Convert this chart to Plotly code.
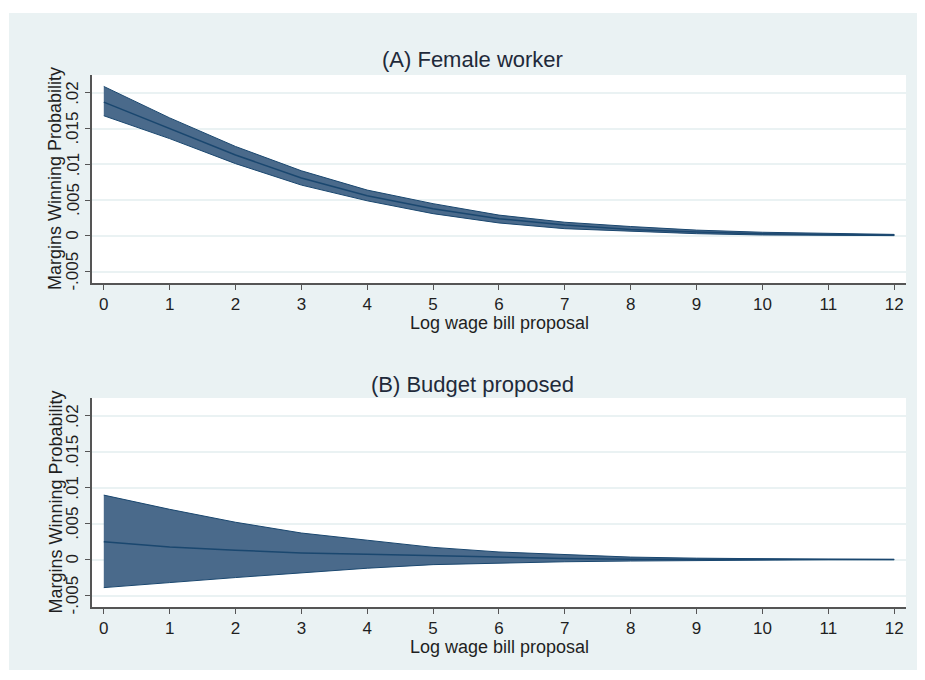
import plotly.graph_objects as go

# ---- data ----
log_wage = [0, 1, 2, 3, 4, 5, 6, 7, 8, 9, 10, 11, 12]

female_margin = [0.0187, 0.0150, 0.0113, 0.0081, 0.0056, 0.0038, 0.0024, 0.0015, 0.0009, 0.00055, 0.0003, 0.00018, 0.0001]
female_lower = [0.0168, 0.0136, 0.0101, 0.0071, 0.0049, 0.0031, 0.0018, 0.0010, 0.0006, 0.0003, 0.00012, 0.00006, 0.00003]
female_upper = [0.0209, 0.0165, 0.0125, 0.0091, 0.0064, 0.0045, 0.0029, 0.0019, 0.0013, 0.0008, 0.0005, 0.0003, 0.0002]

budget_margin = [0.00247, 0.00177, 0.0013, 0.00093, 0.00074, 0.00055, 0.0003, 0.00015, 0.00006, 0.00003, 0.00002, 0.00001, 0.000005]
budget_lower = [-0.0039, -0.0032, -0.0025, -0.0018, -0.0012, -0.0007, -0.00045, -0.0003, -0.0002, -0.0001, -0.00005, -0.00002, -0.00001]
budget_upper = [0.00898, 0.0070, 0.0052, 0.0037, 0.0027, 0.0017, 0.00106, 0.0007, 0.00035, 0.0002, 0.0001, 0.00005, 0.00002]

y_tickvals = [-0.005, 0, 0.005, 0.01, 0.015, 0.02]
y_ticktext = ["-.005", "0", ".005", ".01", ".015", ".02"]
x_tickvals = list(range(0, 13))

panel_titles = ["(A) Female worker", "(B) Budget proposed"]
x_title = "Log wage bill proposal"
y_title = "Margins Winning Probability"

# ---- styling ----
OFF = 8  # page body margin
W, H = 925 - OFF, 680 - 2 * OFF
BG = "#EAF2F3"
FILL = "#4A6A8B"
LINE = "#1A476F"
FONT = "Liberation Sans, Arial, sans-serif"
TXT = "#1f1f1f"

def px_x(p):
    return (p - OFF) / W

def px_y(p):
    return 1 - (p - OFF) / H

panels = [
    dict(top=75, bottom=283, m=female_margin, lo=female_lower, hi=female_upper,
         title_y=60, xtitle_y=323),
    dict(top=398, bottom=607, m=budget_margin, lo=budget_lower, hi=budget_upper,
         title_y=384, xtitle_y=647),
]

fig = go.Figure()
layout_axes = {}
annotations = []
left_px, right_px = 92, 906

for i, p in enumerate(panels):
    n = "" if i == 0 else str(i + 1)
    xa, ya = "x" + n, "y" + n
    fig.add_trace(go.Scatter(
        x=log_wage + log_wage[::-1], y=p["hi"] + p["lo"][::-1],
        fill="toself", fillcolor=FILL, mode="lines",
        line=dict(color=LINE, width=1), xaxis=xa, yaxis=ya,
        showlegend=False, hoverinfo="skip"))
    fig.add_trace(go.Scatter(
        x=log_wage, y=p["m"], mode="lines",
        line=dict(color=LINE, width=1.5), xaxis=xa, yaxis=ya,
        showlegend=False))
    layout_axes["xaxis" + n] = dict(
        domain=[px_x(left_px), px_x(right_px)],
        range=[-0.179, 12.18], tickvals=x_tickvals,
        ticks="outside", ticklen=5, tickcolor="#555", tickwidth=1,
        showline=True, linecolor="#555", linewidth=1.5,
        showgrid=False, zeroline=False, anchor=ya,
        tickfont=dict(family=FONT, size=17, color=TXT),
        automargin=False)
    layout_axes["yaxis" + n] = dict(
        domain=[px_y(p["bottom"]), px_y(p["top"])],
        range=[-0.0066, 0.0225], tickvals=y_tickvals,
        showticklabels=False, ticks="outside", ticklen=5, tickcolor="#555", tickwidth=1,
        showline=True, linecolor="#555", linewidth=1.5,
        showgrid=True, gridcolor=BG, gridwidth=2, zeroline=False, anchor=xa,
        automargin=False)
    # y tick labels (rotated, Stata style)
    for v, t in zip(y_tickvals, y_ticktext):
        annotations.append(dict(
            text=t, x=px_x(73), y=v, xref="paper", yref=ya,
            showarrow=False, xanchor="center", yanchor="middle", textangle=-90,
            font=dict(family=FONT, size=17, color=TXT)))
    annotations.append(dict(
        text=panel_titles[i], x=px_x(472), y=px_y(p["title_y"]),
        xref="paper", yref="paper", showarrow=False, xanchor="center", yanchor="middle",
        font=dict(family=FONT, size=22, color="#1f2a3a")))
    annotations.append(dict(
        text=x_title, x=px_x(499), y=px_y(p["xtitle_y"]),
        xref="paper", yref="paper", showarrow=False, xanchor="center", yanchor="middle",
        font=dict(family=FONT, size=18, color=TXT)))
    annotations.append(dict(
        text=y_title, x=px_x(55), y=px_y((p["top"] + p["bottom"]) / 2),
        xref="paper", yref="paper", showarrow=False, xanchor="center", yanchor="middle",
        textangle=-90, font=dict(family=FONT, size=18, color=TXT)))

shapes = [
    dict(type="rect", xref="paper", yref="paper", x0=0, x1=1, y0=px_y(13), y1=1,
         fillcolor="white", line=dict(width=0), layer="below"),
    dict(type="rect", xref="paper", yref="paper", x0=0, x1=px_x(9), y0=0, y1=1,
         fillcolor="white", line=dict(width=0), layer="below"),
    dict(type="rect", xref="paper", yref="paper", x0=0, x1=1, y0=0, y1=px_y(670),
         fillcolor="white", line=dict(width=0), layer="below"),
]

fig.update_layout(
    width=W, height=H,
    margin=dict(l=0, r=0, t=0, b=0),
    paper_bgcolor=BG, plot_bgcolor="white",
    annotations=annotations, shapes=shapes,
    font=dict(family=FONT, color=TXT),
    **layout_axes)

fig.write_html("out.html")
